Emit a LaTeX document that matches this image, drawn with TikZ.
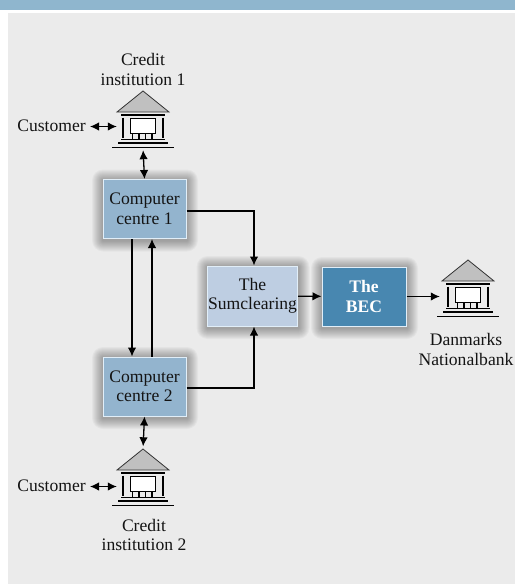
\documentclass[tikz,border=0pt]{standalone}
\usepackage{fontspec}
\setmainfont{Liberation Serif}
\usetikzlibrary{arrows.meta}
\definecolor{bandblue}{RGB}{143,182,206}
\definecolor{panelgrey}{RGB}{235,235,235}
\definecolor{ccfill}{RGB}{147,180,206}
\definecolor{sumfill}{RGB}{190,206,226}
\definecolor{becfill}{RGB}{72,135,176}
\definecolor{boxedge}{RGB}{225,238,248}
\definecolor{rooffill}{RGB}{192,192,192}
\definecolor{txt}{RGB}{20,20,20}
\pgfdeclarelayer{bg}
\pgfdeclarelayer{shade}
\pgfsetlayers{bg,shade,main}
\newcommand\glowbox[1]{%
  \begin{pgfonlayer}{shade}
  \foreach \i in {1,...,11}{
    \fill[black, opacity=0.032, rounded corners=\i pt]
      ([xshift=-\i pt+0.5pt, yshift=\i pt-1.5pt]#1.north west) rectangle
      ([xshift=\i pt+0.5pt, yshift=-\i pt-1.5pt]#1.south east);
  }
  \end{pgfonlayer}}
\begin{document}
\begin{tikzpicture}[x=1pt,y=-1pt,
  every node/.style={font=\fontsize{17.6}{19.5}\selectfont, text=txt},
  label/.style={inner sep=0pt, align=center},
  boxbase/.style={draw=boxedge, line width=1pt, align=center, inner sep=0pt},
  ccbox/.style={boxbase, fill=ccfill, minimum width=83pt, minimum height=59pt},
  sumbox/.style={boxbase, fill=sumfill, minimum width=90pt, minimum height=60pt},
  becbox/.style={boxbase, fill=becfill, minimum width=84pt, minimum height=59pt, text=white, font=\fontsize{17.6}{19.5}\selectfont\bfseries},
  bankspot/.style={inner sep=0pt, minimum width=52pt, minimum height=57pt, draw=none},
  conn/.style={line width=1.3pt, draw=black, -{Latex[length=9pt,width=8.5pt]}},
  bicon/.style={line width=1.3pt, draw=black, {Latex[length=9pt,width=8.5pt]}-{Latex[length=9pt,width=8.5pt]}},
  bankicon/.pic={
    \draw[fill=rooffill, draw=black!80, line width=0.8pt, line join=miter] (0,0) -- (26,21) -- (-26,21) -- cycle;
    \draw[line width=1.6pt] (-22,23.8) -- (22,23.8);
    \draw[line width=2pt] (-20.5,26.5) -- (-20.5,47) (20,26.5) -- (20,47);
    \draw[line width=1.8pt, fill=white] (-12.5,27.5) rectangle (12.5,42.5);
    \draw[line width=1.2pt] (-10.5,42.5) -- (-10.5,48) (-4,42.5) -- (-4,48) (2.5,42.5) -- (2.5,48) (9,42.5) -- (9,48);
    \draw[line width=1.2pt] (-22,48.5) -- (22,48.5);
    \draw[line width=1.6pt] (-25,52) -- (25,52);
    \draw[line width=1.2pt] (-31,56.5) -- (31,56.5);
  }]
\useasboundingbox (0,0) rectangle (515,584);
\begin{pgfonlayer}{bg}
\fill[white] (0,0) rectangle (515,584);
\fill[panelgrey] (8,12.5) rectangle (515,584);
\fill[bandblue] (0,0) rectangle (515,9.5);
\end{pgfonlayer}

% banks
\pic at (143,91) {bankicon};
\node[bankspot] (b1) at (143,119.5) {};
\pic at (143,449) {bankicon};
\node[bankspot] (b2) at (143,477.5) {};
\pic at (468,260) {bankicon};
\node[bankspot] (b3) at (468,288.5) {};

% labels
\node[label] (ci1) at (143,69.5) {Credit\\institution 1};
\node[label] (ci2) at (144,535) {Credit\\institution 2};
\node[label] (dn) at (466,349.5) {Danmarks\\Nationalbank};
\node[label, anchor=east] (cu1) at (86,125.5) {Customer};
\node[label, anchor=east] (cu2) at (86,485.5) {Customer};

% boxes
\node[ccbox] (cc1) at (144.5,209) {Computer\\centre 1};
\node[ccbox] (cc2) at (144.5,386.5) {Computer\\centre 2};
\node[sumbox] (sum) at (252.5,296) {The\\Sumclearing};
\node[becbox] (bec) at (364,296.5) {The\\BEC};
\glowbox{cc1}
\glowbox{cc2}
\glowbox{sum}
\glowbox{bec}

% connectors
\draw[bicon, shorten <=4pt] ([yshift=-1pt]cu1.east) -- ([yshift=-1pt]cu1.east -| b1.west);
\draw[bicon, shorten <=4pt] ([yshift=-1pt]cu2.east) -- ([yshift=-1pt]cu2.east -| b2.west);
\draw[bicon, shorten <=2pt] (b1.south) -- (cc1.north);
\draw[bicon, shorten >=2.5pt] (cc2.south) -- (b2.north);
\draw[conn] ([xshift=-12.5pt]cc1.south) -- ([xshift=-12.5pt]cc2.north);
\draw[conn] ([xshift=7.5pt]cc2.north) -- ([xshift=7.5pt]cc1.south);
\draw[conn] ([yshift=-2pt]cc1.east) -| ([xshift=1.5pt]sum.north);
\draw[conn] ([yshift=-1.5pt]cc2.east) -| ([xshift=1.5pt]sum.south);
\draw[conn] (sum) -- (bec);
\draw[conn, shorten >=2pt] (bec.east) -- (bec.east -| b3.west);
\end{tikzpicture}
\end{document}
